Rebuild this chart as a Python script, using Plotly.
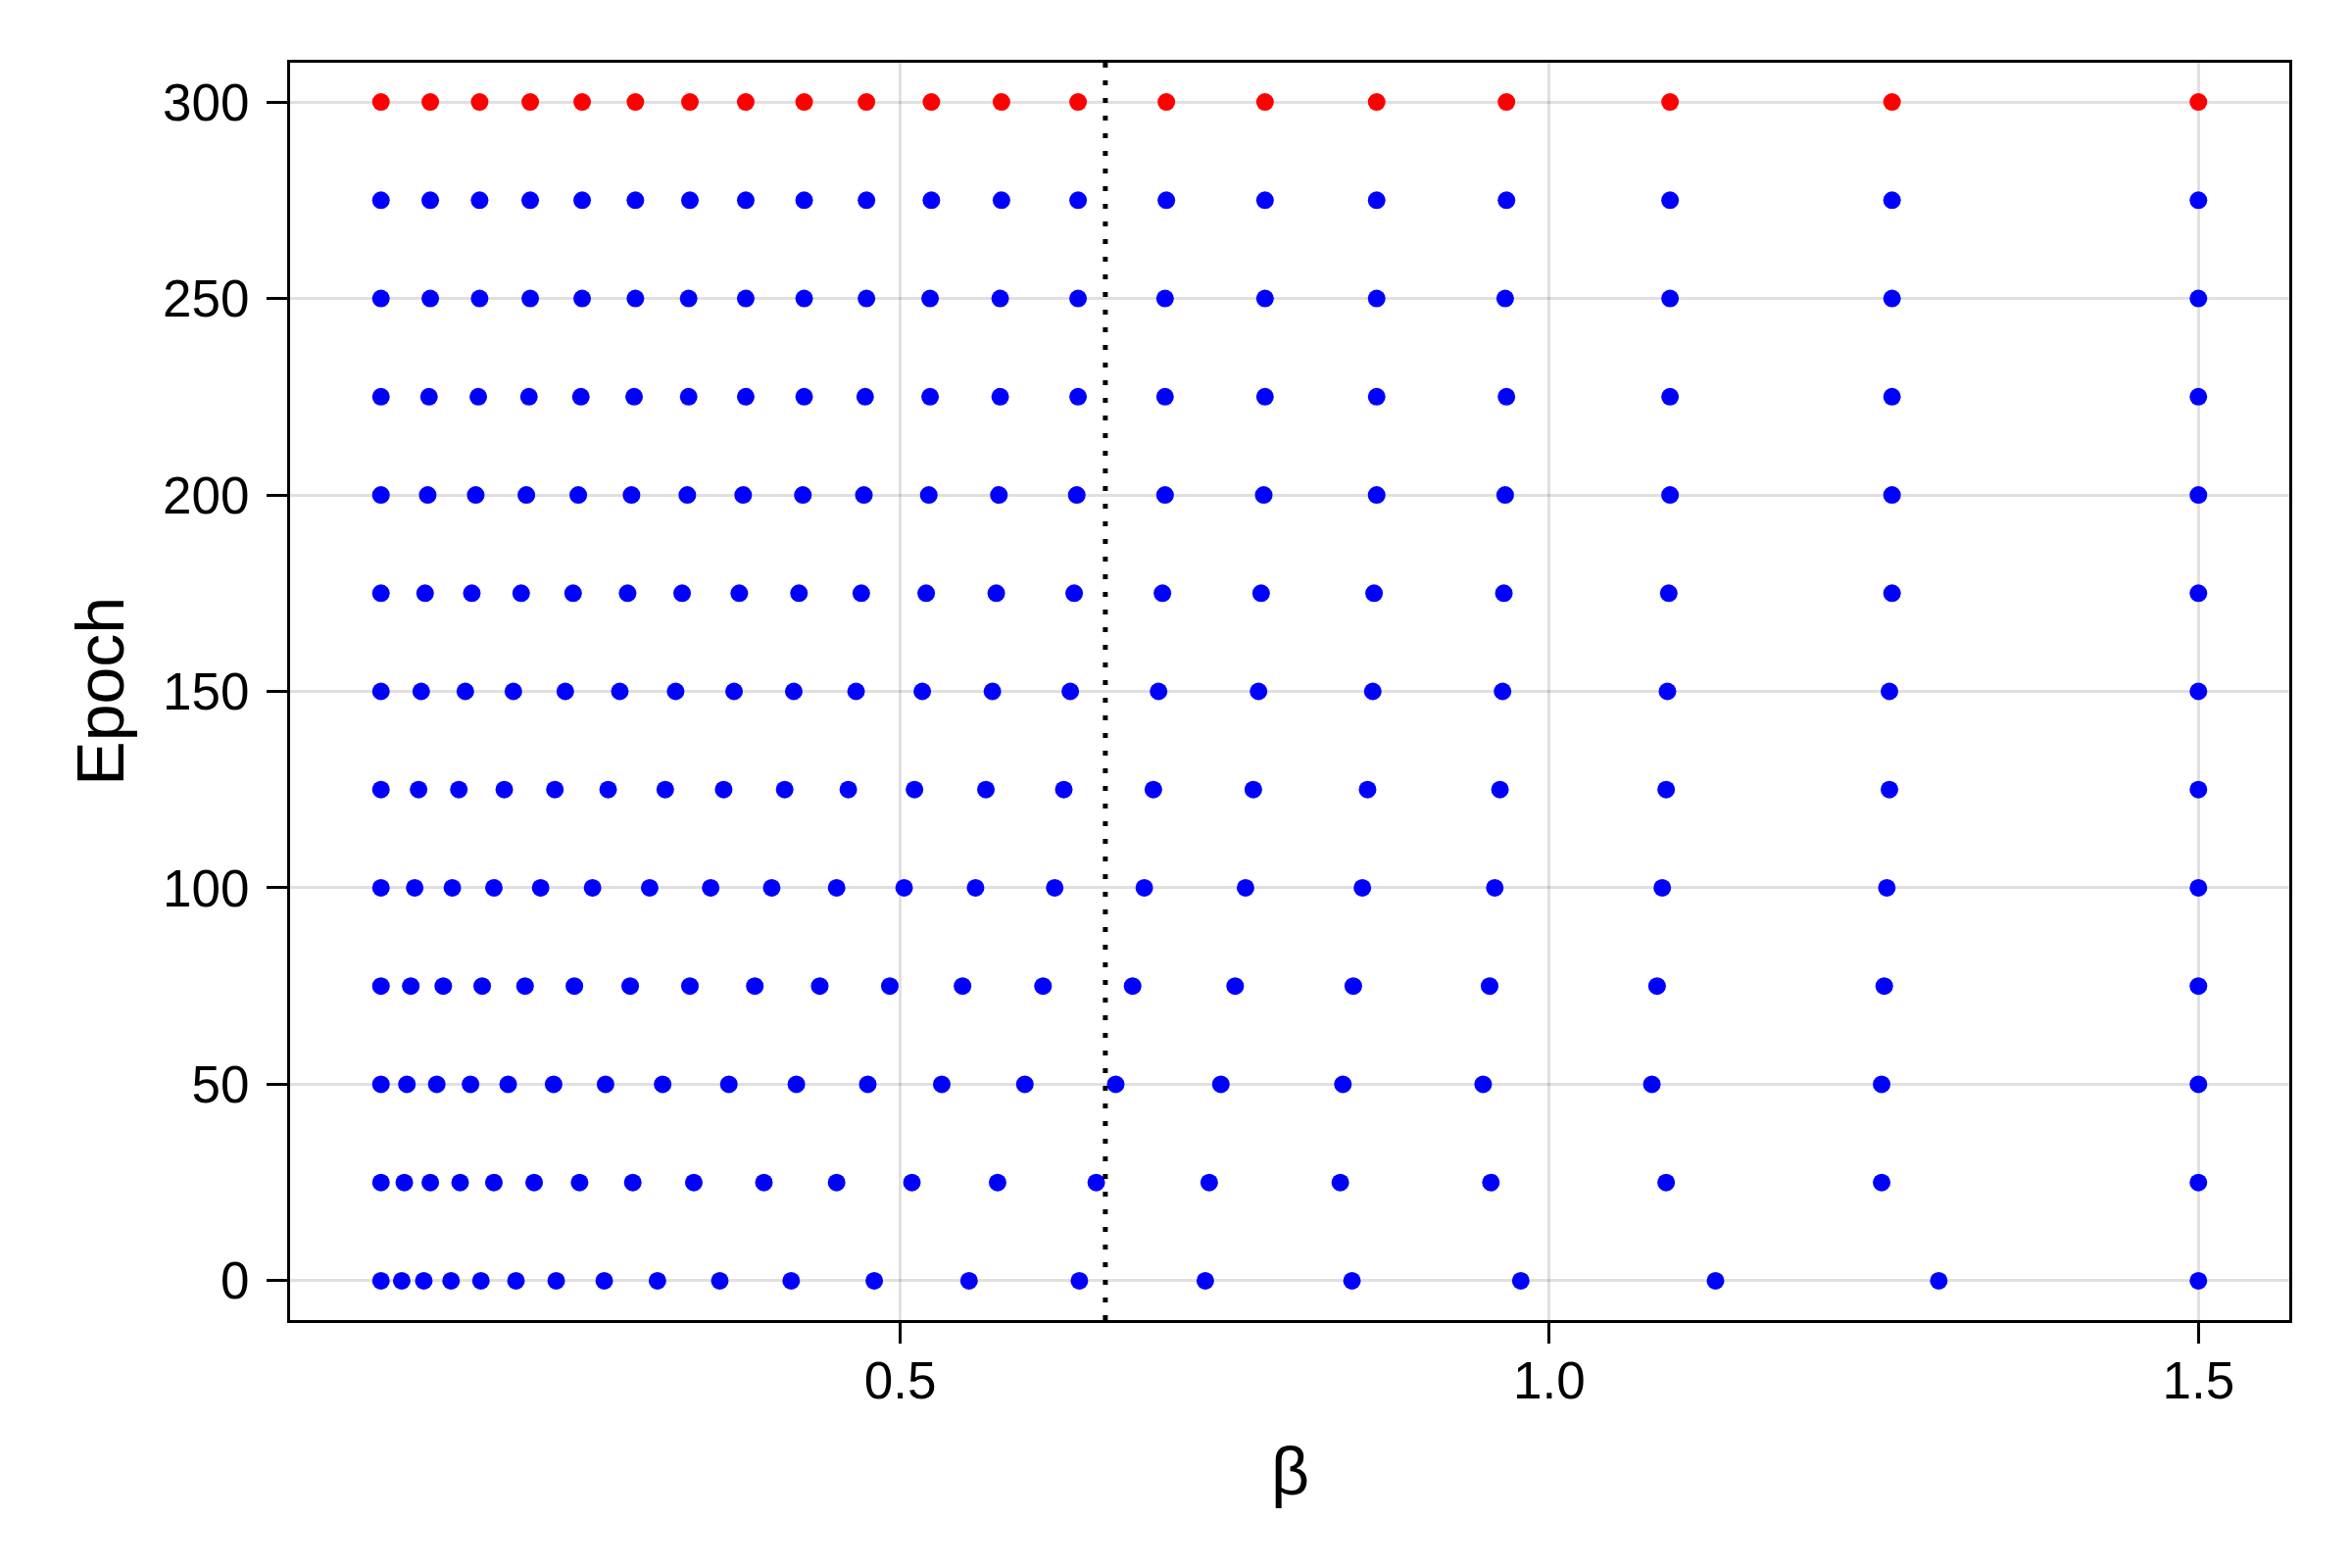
import plotly.graph_objects as go

# beta values per epoch (20 points each)
epochs = [0, 25, 50, 75, 100, 125, 150, 175, 200, 225, 250, 275, 300]

beta_e0 = [0.100, 0.116, 0.133, 0.154, 0.177, 0.204, 0.235, 0.272, 0.313, 0.361,
           0.416, 0.480, 0.553, 0.638, 0.735, 0.848, 0.978, 1.128, 1.300, 1.500]
beta_e25 = [0.100, 0.118, 0.138, 0.161, 0.187, 0.218, 0.253, 0.294, 0.341, 0.395,
            0.451, 0.509, 0.575, 0.651, 0.738, 0.839, 0.955, 1.090, 1.256, 1.500]
beta_e50 = [0.100, 0.120, 0.143, 0.169, 0.198, 0.233, 0.273, 0.317, 0.368, 0.420,
            0.475, 0.532, 0.596, 0.666, 0.747, 0.841, 0.949, 1.079, 1.256, 1.500]
beta_e75 = [0.100, 0.123, 0.148, 0.178, 0.211, 0.249, 0.292, 0.338, 0.388, 0.438,
            0.492, 0.548, 0.610, 0.679, 0.758, 0.849, 0.954, 1.083, 1.258, 1.500]
beta_e100 = [0.100, 0.126, 0.155, 0.187, 0.223, 0.263, 0.307, 0.354, 0.401, 0.451,
             0.503, 0.558, 0.619, 0.688, 0.766, 0.856, 0.958, 1.087, 1.260, 1.500]
beta_e125 = [0.100, 0.129, 0.160, 0.195, 0.234, 0.275, 0.319, 0.364, 0.411, 0.460,
             0.511, 0.566, 0.626, 0.695, 0.772, 0.860, 0.962, 1.090, 1.262, 1.500]
beta_e150 = [0.100, 0.131, 0.165, 0.202, 0.242, 0.284, 0.327, 0.372, 0.418, 0.466,
             0.517, 0.571, 0.631, 0.699, 0.776, 0.864, 0.964, 1.091, 1.262, 1.500]
beta_e175 = [0.100, 0.134, 0.170, 0.208, 0.248, 0.290, 0.332, 0.376, 0.422, 0.470,
             0.520, 0.574, 0.634, 0.702, 0.778, 0.865, 0.965, 1.092, 1.264, 1.500]
beta_e200 = [0.100, 0.136, 0.173, 0.212, 0.252, 0.293, 0.336, 0.379, 0.425, 0.472,
             0.522, 0.576, 0.636, 0.704, 0.780, 0.867, 0.966, 1.093, 1.264, 1.500]
beta_e225 = [0.100, 0.137, 0.175, 0.214, 0.254, 0.295, 0.337, 0.381, 0.426, 0.473,
             0.523, 0.577, 0.637, 0.704, 0.781, 0.867, 0.967, 1.093, 1.264, 1.500]
beta_e250 = [0.100, 0.138, 0.176, 0.215, 0.255, 0.296, 0.337, 0.381, 0.426, 0.474,
             0.523, 0.577, 0.637, 0.704, 0.781, 0.867, 0.966, 1.093, 1.264, 1.500]
beta_e275 = [0.100, 0.138, 0.176, 0.215, 0.255, 0.296, 0.338, 0.381, 0.426, 0.474,
             0.524, 0.578, 0.637, 0.705, 0.781, 0.867, 0.967, 1.093, 1.264, 1.500]
beta_e300 = [0.100, 0.138, 0.176, 0.215, 0.255, 0.296, 0.338, 0.381, 0.426, 0.474,
             0.524, 0.578, 0.637, 0.705, 0.781, 0.867, 0.967, 1.093, 1.264, 1.500]

beta_rows = [beta_e0, beta_e25, beta_e50, beta_e75, beta_e100, beta_e125, beta_e150,
             beta_e175, beta_e200, beta_e225, beta_e250, beta_e275, beta_e300]

beta_critical = 0.658

FONT = "Liberation Sans, Arial, sans-serif"

fig = go.Figure()

for epoch, betas in zip(epochs, beta_rows):
    color = "#ff0000" if epoch == epochs[-1] else "#0000ff"
    fig.add_trace(
        go.Scatter(
            x=betas,
            y=[epoch] * len(betas),
            mode="markers",
            marker={"size": 18, "color": color, "line": {"width": 0}},
            name=f"epoch {epoch}",
            showlegend=False,
        )
    )

fig.add_shape(
    type="line",
    x0=beta_critical, x1=beta_critical, xref="x",
    y0=0, y1=1, yref="paper",
    line={"color": "black", "width": 5, "dash": "5px,13px"},
)

axis_common = dict(
    showline=True,
    linecolor="black",
    linewidth=3,
    mirror=True,
    ticks="outside",
    ticklen=21,
    tickwidth=3,
    tickcolor="black",
    showgrid=True,
    gridcolor="rgba(0,0,0,0.12)",
    gridwidth=3,
    zeroline=False,
    tickfont={"family": FONT, "size": 53, "color": "black"},
)

fig.update_xaxes(range=[0.03, 1.57], tickvals=[0.5, 1.0, 1.5], ticktext=["0.5", "1.0", "1.5"],
                 ticklabelstandoff=-8, **axis_common)
fig.update_yaxes(range=[-10, 310], tickvals=[0, 50, 100, 150, 200, 250, 300],
                 ticklabelstandoff=7, **axis_common)

fig.add_annotation(text="Epoch", xref="paper", yref="paper", x=-0.0955, y=0.5,
                   xanchor="center", yanchor="middle", textangle=-90, showarrow=False,
                   font={"family": FONT, "size": 68, "color": "black"})
fig.add_annotation(text="β", xref="paper", yref="paper", x=0.5, y=-0.120,
                   xanchor="center", yanchor="middle", showarrow=False,
                   font={"family": FONT, "size": 68, "color": "black"})

# page body adds an 8px offset, so margins are shifted to keep the plot box in place
fig.update_layout(
    width=2400,
    height=1600,
    margin={"l": 288, "r": 72, "t": 56, "b": 261},
    plot_bgcolor="white",
    paper_bgcolor="white",
    showlegend=False,
)

fig.write_html("out.html")
